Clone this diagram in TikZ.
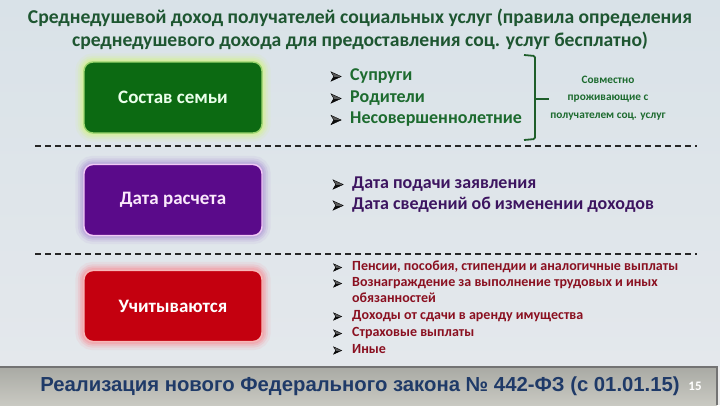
\documentclass[tikz,border=0pt]{standalone}
\usepackage{fontspec}
\setmainfont{Carlito}
\newfontfamily\arialf{Liberation Sans}
\usetikzlibrary{backgrounds}
\definecolor{bgtop}{HTML}{D9E2E8}
\definecolor{bgmid}{HTML}{F6F7F8}
\definecolor{bgbot}{HTML}{E4E8EC}
\definecolor{titlec}{HTML}{1E5631}
\definecolor{gfill}{HTML}{0C6A12}
\definecolor{gbord}{HTML}{9AD46E}
\definecolor{gglow}{HTML}{D6F09A}
\definecolor{pfill}{HTML}{5A0A8A}
\definecolor{pbord}{HTML}{F2C8F6}
\definecolor{pglow}{HTML}{B8A6DA}
\definecolor{rfill}{HTML}{C4000F}
\definecolor{rbord}{HTML}{F7B8B8}
\definecolor{rglow}{HTML}{F2A2AA}
\definecolor{gtext}{HTML}{1D6B2F}
\definecolor{ptext}{HTML}{3D1560}
\definecolor{rtext}{HTML}{8A1020}
\definecolor{brc}{HTML}{1E5E2A}
\definecolor{bantop}{HTML}{A9AAA4}
\definecolor{banbot}{HTML}{C9C9C2}
\definecolor{bantext}{HTML}{1F3A68}
\tikzset{
  catbox/.style={draw=#1, line width=1.4pt, rounded corners=9pt, minimum width=178pt, minimum height=71pt, text=white, font=\fontsize{19}{22}\bfseries},
  gitem/.style={anchor=west, inner sep=0pt, text height=12pt, text depth=3.5pt, text=gtext, font=\fontsize{18}{21}\bfseries},
  pitem/.style={anchor=west, inner sep=0pt, text height=12pt, text depth=3.5pt, text=ptext, font=\fontsize{18}{21}\bfseries},
  ritem/.style={anchor=west, inner sep=0pt, text height=10pt, text depth=3pt, text=rtext, font=\fontsize{14}{16}\bfseries},
  sepline/.style={black!85, line width=1.5pt, dash pattern=on 6pt off 4pt},
  bulletmark/.pic={
    \fill[black!65] (0,-5.5) -- (12,0) -- (3.2,0) -- cycle;
    \fill[black!95] (0,5.5) -- (12,0) -- (3.2,0) -- cycle;
    \draw[black, line width=0.4pt, line join=miter] (0,-5.5) -- (12,0) -- (0,5.5) -- (3.2,0) -- cycle;
  }
}
\begin{document}
\begin{tikzpicture}[x=1pt,y=-1pt]
\useasboundingbox (0,0) rectangle (720,405);
% title
\node[text=titlec, font=\fontsize{19.6}{23}\bfseries, align=center] (title) at (360,29)
  {Среднедушевой доход получателей социальных услуг (правила определения\\среднедушевого дохода для предоставления соц. услуг бесплатно)};
% boxes
\node[catbox=gbord, fill=gfill, text=green!8!white] (b1) at (173,97.5) {Состав семьи};
\node[catbox=pbord, fill=pfill, text=pbord!40!white] (b2) at (173,200) {Дата расчета};
\node[catbox=rbord, fill=rfill] (b3) at (173,306) {Учитываются};
% separators
\coordinate (s1a) at (35,146); \coordinate (s1b) at (697,146);
\coordinate (s2a) at (35,254); \coordinate (s2b) at (697,254);
\draw[sepline] (s1a) -- (s1b);
\draw[sepline] (s2a) -- (s2b);
% green list
\node[gitem] (g1) at (330,76) {\hspace{20pt}Супруги};
\node[gitem] (g2) at (330,98) {\hspace{20pt}Родители};
\node[gitem] (g3) at (330,119.5) {\hspace{20pt}Несовершеннолетние};
% bracket
\coordinate (brt) at (524,55); \coordinate (brb) at (524,140);
\coordinate (brm) at (535,99); \coordinate (brk) at (549,99);
\draw[brc, line width=1.8pt, rounded corners=1.5pt] (brt) -- ++(11,1) -- ++(0,83) -- (brb);
\draw[brc, line width=1.8pt] (brm) -- (brk);
\node[text=gtext, font=\fontsize{11.3}{17.5}\bfseries, align=center] (side) at (608,98)
  {Совместно\\проживающие с\\получателем соц. услуг};
% purple list
\node[pitem] (p1) at (332,184) {\hspace{20pt}Дата подачи заявления};
\node[pitem] (p2) at (332,205) {\hspace{20pt}Дата сведений об изменении доходов};
% red list
\node[ritem] (r1) at (333,267) {\hspace{19pt}Пенсии, пособия, стипендии и аналогичные выплаты};
\node[ritem] (r2) at (333,283) {\hspace{19pt}Вознаграждение за выполнение трудовых и иных};
\node[ritem] (r3) at (333,298.5) {\hspace{19pt}обязанностей};
\node[ritem] (r4) at (333,316) {\hspace{19pt}Доходы от сдачи в аренду имущества};
\node[ritem] (r5) at (333,333) {\hspace{19pt}Страховые выплаты};
\node[ritem] (r6) at (333,350) {\hspace{19pt}Иные};
% bullets
\foreach \n in {g1,g2,g3,p1,p2}{ \pic[shift={(1,0.5)}, scale=0.85] at (\n.west) {bulletmark}; }
\foreach \n in {r1,r2,r4,r5,r6}{ \pic[shift={(0.5,0.5)}, scale=0.68] at (\n.west) {bulletmark}; }
% banner
\coordinate (bn1) at (0,367); \coordinate (bn2) at (717,405);
\node[text=bantext, font=\arialf\fontsize{20.3}{23}\bfseries] (law) at (360,386)
  {Реализация нового Федерального закона № 442-ФЗ (с 01.01.15)};
\node[text=white, font=\fontsize{13}{14}\bfseries] (pg) at (695,386) {15};
\begin{scope}[on background layer]
  \shade[top color=bgtop, middle color=bgmid, bottom color=bgbot] (0,0) rectangle (720,367);
  \fill[white!85!gray] (0,367) rectangle (720,405);
  \shade[top color=bantop, bottom color=banbot] (bn1) rectangle (bn2);
  \draw[black!55, line width=1.2pt] (bn1) -- (717,367) -- (bn2);
  \foreach \b/\c in {b1/gglow, b2/pglow, b3/rglow}{
    \foreach \w/\o in {16/0.15, 11/0.25, 7/0.4, 3.5/0.6}{
      \draw[\c, line width=\w pt, opacity=\o, rounded corners=10pt] (\b.north west) rectangle (\b.south east);
    }
  }
\end{scope}
\end{tikzpicture}
\end{document}
